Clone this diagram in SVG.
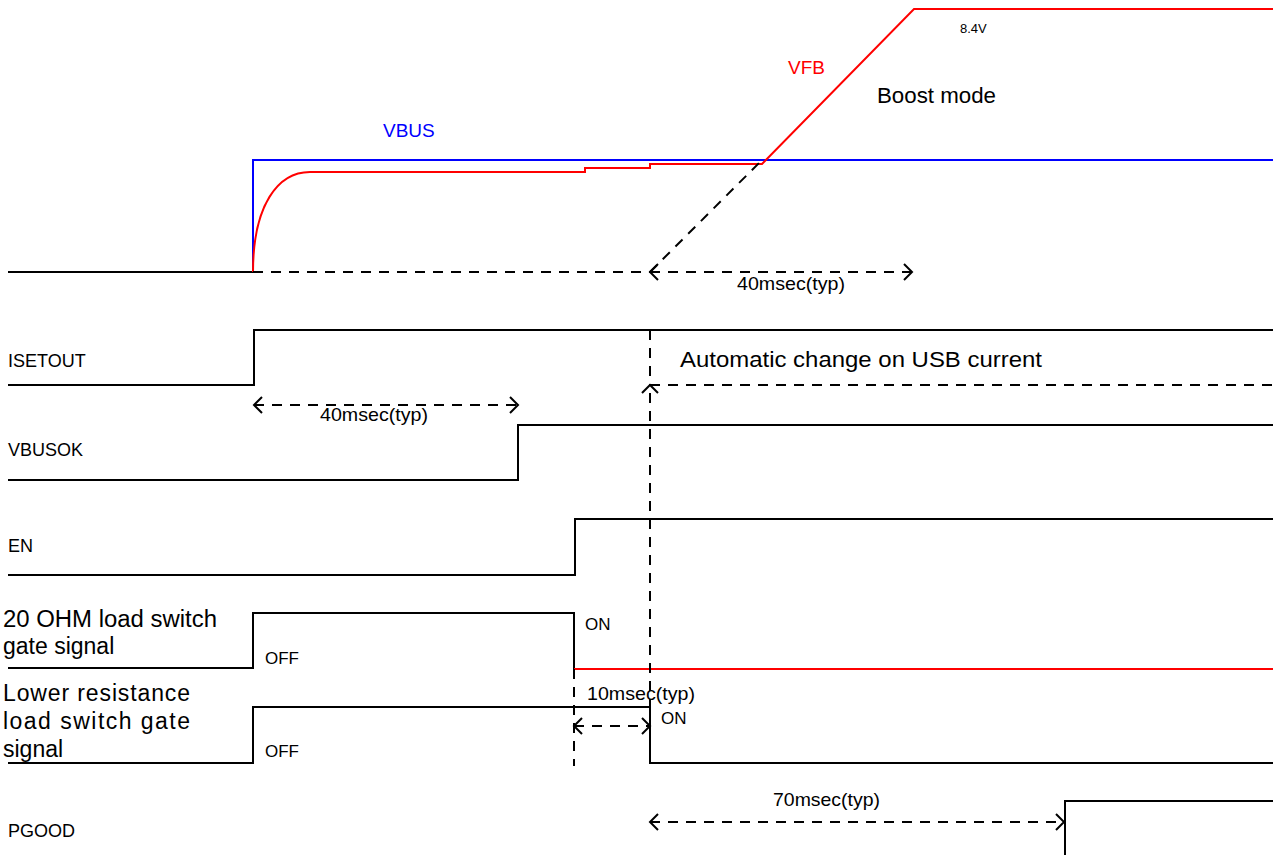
<svg xmlns="http://www.w3.org/2000/svg" width="1279" height="855" viewBox="0 0 1279 855">
<style>
.w{fill:none;stroke:#000;stroke-width:2}
.r{fill:none;stroke:#f00;stroke-width:2}
.b{fill:none;stroke:#00f;stroke-width:2}
.d{fill:none;stroke:#000;stroke-width:2;stroke-dasharray:10 8}
.t{font-family:"Liberation Sans",Arial,sans-serif;fill:#000}
.s{font-size:18px}
.m{font-size:17px}
.q{font-size:19px}
.l{font-size:23px}
</style>
<defs>
<marker id="ah" markerUnits="userSpaceOnUse" markerWidth="20" markerHeight="20" viewBox="-10 -10 20 20" refX="0" refY="0" orient="auto-start-reverse">
<path d="M-8,-8 L0,0 L-8,8" fill="none" stroke="#000" stroke-width="2"/>
</marker>
</defs>
<rect width="1279" height="855" fill="#fff"/>

<g id="vbus-vfb">
<path class="w" d="M8,272 H253"/>
<path class="b" d="M253,272 V160 H1273"/>
<path class="r" d="M253,272 C253,205 278,172 310,172 H585 V168 H650 V164 H762 L914,9 H1273"/>
<text class="t" x="383" y="137" font-size="19" style="fill:#00f">VBUS</text>
<text class="t" x="788" y="74" font-size="19" style="fill:#f00">VFB</text>
<text class="t" x="877" y="103" font-size="22" textLength="119" lengthAdjust="spacingAndGlyphs">Boost mode</text>
<text class="t" x="960" y="33" font-size="13">8.4V</text>
</g>

<g id="isetout">
<path class="w" d="M8,385 H254 V330 H1273"/>
<text class="t s" x="8" y="367">ISETOUT</text>
<text class="t" x="680" y="367" font-size="22" textLength="362" lengthAdjust="spacingAndGlyphs">Automatic change on USB current</text>
</g>

<g id="vbusok">
<path class="w" d="M8,480 H518 V425 H1273"/>
<text class="t s" x="8" y="456">VBUSOK</text>
</g>

<g id="en">
<path class="w" d="M8,575 H575 V519 H1273"/>
<text class="t s" x="8" y="552">EN</text>
</g>

<g id="ohm20">
<path class="w" d="M8,668 H253 V613 H574 V669"/>
<path class="r" d="M574,669 H1273"/>
<text class="t l" x="3" y="627" textLength="214" lengthAdjust="spacingAndGlyphs">20 OHM load switch</text>
<text class="t l" x="3" y="654">gate signal</text>
<text class="t m" x="265" y="664">OFF</text>
<text class="t m" x="585" y="630">ON</text>
</g>

<g id="lowres">
<path class="w" d="M8,763 H253 V707 H650 V763 H1273"/>
<text class="t l" x="3" y="701" textLength="187" lengthAdjust="spacing">Lower  resistance</text>
<text class="t l" x="3" y="729" textLength="187" lengthAdjust="spacing">load  switch  gate</text>
<text class="t l" x="3" y="757">signal</text>
<text class="t m" x="265" y="757">OFF</text>
<text class="t m" x="661" y="724">ON</text>
</g>

<g id="pgood">
<path class="w" d="M1065,855 V801 H1273"/>
<text class="t s" x="8" y="837">PGOOD</text>
</g>

<g id="connectors">
<path class="d" d="M253,272 H650"/>
<path class="d" d="M650,272 H912" marker-start="url(#ah)" marker-end="url(#ah)"/>
<path class="d" d="M650,272 L762,160"/>
<path class="d" d="M254,405 H518" marker-start="url(#ah)" marker-end="url(#ah)"/>
<path class="d" d="M650,330 V385"/>
<path class="d" d="M650,763 V385" marker-end="url(#ah)"/>
<path class="d" d="M650,385 H1273"/>
<path class="d" d="M574,669 V766"/>
<path class="d" d="M574,726 H650" marker-start="url(#ah)" marker-end="url(#ah)"/>
<path class="d" d="M650,822 H1064" marker-start="url(#ah)" marker-end="url(#ah)"/>
<text class="t q" x="737" y="290" textLength="108" lengthAdjust="spacingAndGlyphs">40msec(typ)</text>
<text class="t q" x="320" y="421" textLength="108" lengthAdjust="spacingAndGlyphs">40msec(typ)</text>
<text class="t q" x="587" y="700" textLength="108" lengthAdjust="spacingAndGlyphs">10msec(typ)</text>
<text class="t q" x="773" y="806" textLength="107" lengthAdjust="spacingAndGlyphs">70msec(typ)</text>
</g>
</svg>
